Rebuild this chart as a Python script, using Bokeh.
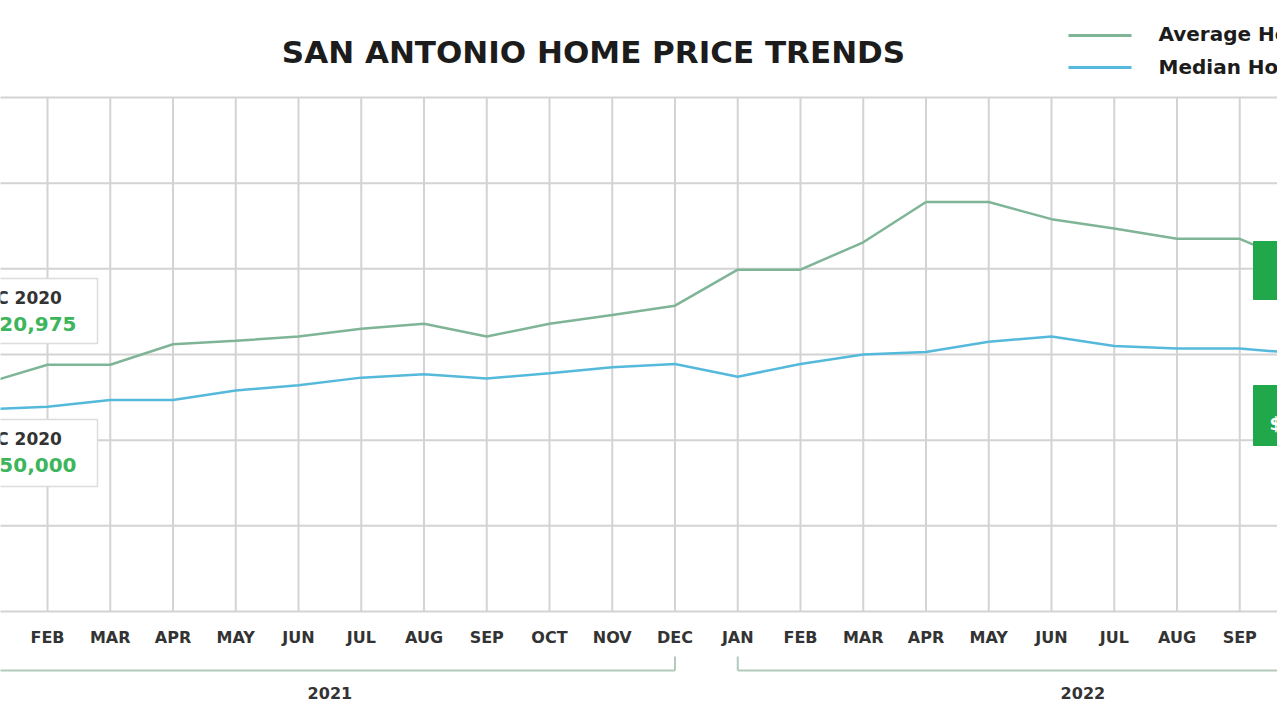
from bokeh.plotting import figure
from bokeh.models import Range1d
from bokeh.embed import file_html
from bokeh.resources import INLINE
from bokeh.core.properties import value

# ---------------- data ----------------
month_labels = ["JAN", "FEB", "MAR", "APR", "MAY", "JUN", "JUL", "AUG", "SEP", "OCT", "NOV", "DEC",
                "JAN", "FEB", "MAR", "APR", "MAY", "JUN", "JUL", "AUG", "SEP", "OCT", "NOV", "DEC"]
year_labels = ["2021", "2022"]
avg_price = [283000, 294000, 294000, 306000, 308000, 310500, 315000, 318000, 310500, 318000, 323000, 328500,
             349500, 349500, 365500, 389000, 389000, 379000, 373500, 367500, 367500, 352000]
median_price = [268000, 269500, 273500, 273500, 279000, 282000, 286500, 288500, 286000, 289000, 292500, 294500,
                287000, 294500, 300000, 301500, 307500, 310500, 305000, 303500, 303500, 300500]
grid_values = [150000, 200000, 250000, 300000, 350000, 400000, 450000]
series_names = ["Average Home Price", "Median Home Price"]
start_period = ["DEC 2020", "DEC 2020"]
start_values = ["$320,975", "$250,000"]
end_values = ["$300,500"]
title_text = "SAN ANTONIO HOME PRICE TRENDS"

# ---------------- layout ----------------
W, H = 1277, 720
PX_TOP, PX_BOT = 97, 611
X0_PX, DX_PX = -15.75, 62.75
ypp = (max(grid_values) - min(grid_values)) / (PX_BOT - PX_TOP)


def py(px):
    return min(grid_values) + (PX_BOT - px) * ypp


def px_x(px):
    return (px - X0_PX) / DX_PX


def x_px(i):
    return X0_PX + i * DX_PX


AVG_COLOR = "#7fb596"
MED_COLOR = "#55b9dc"
GRID_COLOR = "#d3d3d3"
GREEN = "#21a84a"
FONT = value("DejaVu Sans")

p = figure(width=W, height=H,
           x_range=Range1d(px_x(0), px_x(W)), y_range=Range1d(py(H), py(0)),
           output_backend="svg", toolbar_location=None,
           x_axis_location=None, y_axis_location=None, min_border=0)
p.grid.visible = False
p.outline_line_color = None
p.background_fill_color = "white"
p.border_fill_color = "white"

n_months = len(month_labels)

# grid
p.segment(x0=[px_x(-5)] * len(grid_values), x1=[px_x(W + 5)] * len(grid_values),
          y0=grid_values, y1=grid_values, line_color=GRID_COLOR, line_width=2)
p.segment(x0=list(range(n_months)), x1=list(range(n_months)),
          y0=[min(grid_values)] * n_months, y1=[max(grid_values)] * n_months,
          line_color=GRID_COLOR, line_width=2)

# lines
p.line(list(range(len(avg_price))), avg_price, line_color=AVG_COLOR, line_width=2.5)
p.line(list(range(len(median_price))), median_price, line_color=MED_COLOR, line_width=2.5)

# left annotation boxes (Dec 2020)
box_tops = [278, 419]
box_bots = [343, 486]
p.quad(left=[px_x(-100)] * 2, right=[px_x(97)] * 2,
       top=[py(t) for t in box_tops], bottom=[py(b) for b in box_bots],
       fill_color="white", line_color="#dcdcdc", line_width=1.5)
p.text(x=[px_x(-30)] * 2, y=[py(297), py(438)], text=start_period,
       text_font=FONT, text_font_style="bold", text_font_size="17px",
       text_color="#333333", text_align="left", text_baseline="middle")
p.text(x=[px_x(-29)] * 2, y=[py(323), py(464)], text=start_values,
       text_font=FONT, text_font_style="bold", text_font_size="20px",
       text_color="#3db55b", text_align="left", text_baseline="middle")

# right green boxes
p.quad(left=[px_x(1253)] * 2, right=[px_x(1340)] * 2,
       top=[py(241), py(385)], bottom=[py(299), py(445)],
       fill_color=GREEN, line_color=GREEN)
p.text(x=[px_x(1269)], y=[py(423)], text=end_values,
       text_font=FONT, text_font_style="bold", text_font_size="18px",
       text_color="white", text_align="left", text_baseline="middle")

# title
p.text(x=[px_x(593)], y=[py(51)], text=[title_text], text_font=FONT, text_font_style="bold",
       text_font_size="31px", text_color="#1c1c1c", text_align="center", text_baseline="middle")

# legend
p.segment(x0=[px_x(1068)] * 2, x1=[px_x(1131)] * 2, y0=[py(35), py(67)], y1=[py(35), py(67)],
          line_color=[AVG_COLOR, MED_COLOR], line_width=3)
p.text(x=[px_x(1158)] * 2, y=[py(33), py(66)], text=series_names,
       text_font=FONT, text_font_style="bold", text_font_size="20px",
       text_color="#1c1c1c", text_align="left", text_baseline="middle")

# month labels (only those that fall within the picture)
vis = [i for i in range(n_months) if -40 < x_px(i) < W + 30]
p.text(x=vis, y=[py(637)] * len(vis), text=[month_labels[i] for i in vis],
       text_font=FONT, text_font_style="bold", text_font_size="16px",
       text_color="#333333", text_align="center", text_baseline="middle")

# year brackets
BR_COLOR = "#b3c9bc"
starts = [0, 12]
ends = [11, 23]
p.segment(x0=starts, x1=ends, y0=[py(670)] * 2, y1=[py(670)] * 2, line_color=BR_COLOR, line_width=2)
p.segment(x0=starts + ends, x1=starts + ends, y0=[py(670)] * 4, y1=[py(656)] * 4,
          line_color=BR_COLOR, line_width=2)
p.text(x=[(s + e) / 2 for s, e in zip(starts, ends)], y=[py(692)] * 2, text=year_labels,
       text_font=FONT, text_font_style="bold", text_font_size="16px",
       text_color="#333333", text_align="center", text_baseline="middle")

open("out.html", "w").write(file_html(p, INLINE))
